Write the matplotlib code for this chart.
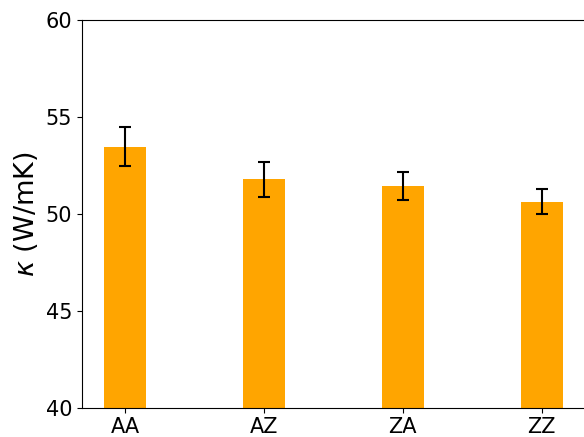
import matplotlib
matplotlib.use('Agg')
import matplotlib.pyplot as plt
import numpy as np

# Thermal conductivity per stacking configuration
configs = ['AA', 'AZ', 'ZA', 'ZZ']
kappa = [53.47, 51.77, 51.43, 50.62]
kappa_err = [1.00, 0.88, 0.70, 0.65]

fig = plt.figure(figsize=(5.84, 4.37), dpi=100)
ax = fig.add_axes([0.1404, 0.0675, 0.8664, 0.8867])

x = np.arange(len(configs))
ax.bar(x, kappa, width=0.3, color='orange', yerr=kappa_err,
       error_kw=dict(ecolor='black', elinewidth=1.5, capsize=4.5, capthick=1.5))

ax.set_xlim(-0.31, 3.333)
ax.set_ylim(40, 60)
ax.set_yticks([40, 45, 50, 55, 60])
ax.set_xticks(x)
ax.set_xticklabels(configs)
ax.tick_params(labelsize=15)
ax.set_ylabel(r'$\kappa$ (W/mK)', fontsize=19.5)

fig.savefig('out.png', dpi=100)
